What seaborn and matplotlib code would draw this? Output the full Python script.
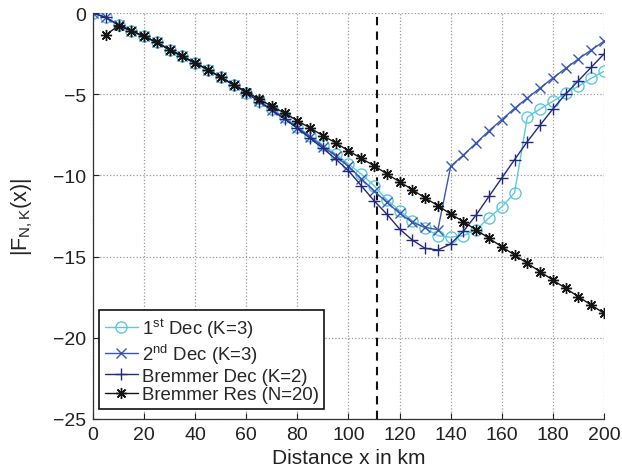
import numpy as np
import pandas as pd
import matplotlib
matplotlib.use("Agg")
import matplotlib.pyplot as plt
import seaborn as sns

# ---- data ----
x_dec = list(range(0, 205, 5))
first_dec = [0, -0.27, -0.74, -1.09, -1.44, -1.81, -2.26, -2.67, -3.08, -3.49, -3.96,
             -4.41, -4.90, -5.42, -5.91, -6.42, -7.00, -7.55, -8.13, -8.68, -9.30,
             -9.91, -10.63, -11.49, -12.17, -12.79, -13.26, -13.71, -13.81, -13.71, -13.34,
             -12.62, -11.93, -11.08, -6.42, -5.91, -5.44, -4.93, -4.51, -4.02, -3.59]
second_dec = [0, -0.27, -0.74, -1.09, -1.44, -1.81, -2.26, -2.67, -3.08, -3.49, -3.96,
              -4.41, -4.90, -5.43, -5.95, -6.48, -7.05, -7.62, -8.22, -8.80, -9.45,
              -10.20, -10.94, -11.66, -12.33, -12.89, -13.20, -13.34, -9.44, -8.74, -8.00,
              -7.25, -6.57, -5.87, -5.23, -4.62, -4.00, -3.41, -2.83, -2.28, -1.74]
bremmer_dec = [0, -0.27, -0.74, -1.09, -1.44, -1.81, -2.26, -2.67, -3.08, -3.49, -3.96,
               -4.41, -4.90, -5.45, -6.00, -6.53, -7.10, -7.72, -8.33, -8.99, -9.71,
               -10.63, -11.56, -12.38, -13.30, -13.98, -14.49, -14.59, -14.22, -13.44, -12.43,
               -11.29, -10.16, -9.03, -7.92, -6.90, -5.91, -4.99, -4.17, -3.34, -2.52]
x_res = list(range(5, 205, 5))
bremmer_res = [-1.35, -0.78, -1.09, -1.44, -1.81, -2.26, -2.67, -3.08, -3.49, -3.96,
               -4.41, -4.84, -5.30, -5.75, -6.16, -6.63, -7.08, -7.55, -8.00, -8.48,
               -8.95, -9.40, -9.91, -10.39, -10.88, -11.39, -11.86, -12.38, -12.85, -13.36,
               -13.87, -14.39, -14.90, -15.41, -15.93, -16.44, -16.95, -17.47, -17.98, -18.49]
x_marker_line = 111
labels = ["1$^{\\mathrm{st}}$ Dec (K=3)", "2$^{\\mathrm{nd}}$ Dec (K=3)",
          "Bremmer Dec (K=2)", "Bremmer Res (N=20)"]
xticks = list(range(0, 201, 20))
yticks = [0, -5, -10, -15, -20, -25]

# ---- style ----
sns.set_style("ticks")
plt.rcParams["font.family"] = ["Liberation Sans", "DejaVu Sans"]
plt.rcParams["mathtext.fontset"] = "custom"
plt.rcParams["mathtext.rm"] = "Liberation Sans"
plt.rcParams["mathtext.it"] = "Liberation Sans"
plt.rcParams["font.size"] = 14

fig = plt.figure(figsize=(6.22, 4.77), dpi=100)
ax = fig.add_axes([0.1495, 0.1195, 0.8215, 0.8511])

c1, c2, c3, c4 = "#5ec8dd", "#3a56b4", "#23297e", "#151515"
ast = (8, 2, 0)

sns.lineplot(x=x_dec, y=first_dec, ax=ax, color=c1, marker="o", markersize=8,
             markerfacecolor="none", markeredgecolor=c1, markeredgewidth=1.0,
             linewidth=1.0, label=labels[0], sort=False)
sns.lineplot(x=x_dec, y=second_dec, ax=ax, color=c2, marker="x", markersize=7,
             markeredgecolor=c2, markeredgewidth=1.0, linewidth=1.0,
             label=labels[1], sort=False)
sns.lineplot(x=x_dec, y=bremmer_dec, ax=ax, color=c3, marker="+", markersize=9,
             markeredgecolor=c3, markeredgewidth=1.0, linewidth=1.0,
             label=labels[2], sort=False)
sns.lineplot(x=x_res, y=bremmer_res, ax=ax, color=c4, marker=ast, markersize=8,
             markeredgecolor=c4, markeredgewidth=1.0, linewidth=1.0,
             label=labels[3], sort=False)

ax.axvline(x_marker_line, color="#111111", linestyle=(0, (4, 3)), linewidth=1.5, zorder=1)

ax.set_xlim(0, 200)
ax.set_ylim(-25, 0)
ax.set_xticks(xticks)
ax.set_yticks(yticks)
ax.grid(True, linestyle=":", color="#9a9a9a", linewidth=0.9)
ax.tick_params(direction="in", length=4, width=0.8, colors="#222222", pad=5,
               labelsize=14, labelcolor="#222222", top=False, right=False)
for s in ["top", "right"]:
    ax.spines[s].set_visible(False)
for s in ["left", "bottom"]:
    ax.spines[s].set_color("#333333")
    ax.spines[s].set_linewidth(0.9)

ax.set_xlabel("Distance x in km", fontsize=15, color="#222222", labelpad=4)
ax.set_ylabel("|F$_{\\mathrm{N,K}}$(x)|", fontsize=15.5, color="#222222", labelpad=13)

leg = ax.legend(loc="lower left", bbox_to_anchor=(0.0045, 0.0155), fontsize=13.4,
                frameon=True, fancybox=False, edgecolor="#111111", framealpha=1,
                handlelength=1.8, handletextpad=0.2, labelspacing=0.1,
                borderpad=0.3, borderaxespad=0.2)
leg.get_frame().set_linewidth(1.2)

fig.savefig("out.png", dpi=100)
